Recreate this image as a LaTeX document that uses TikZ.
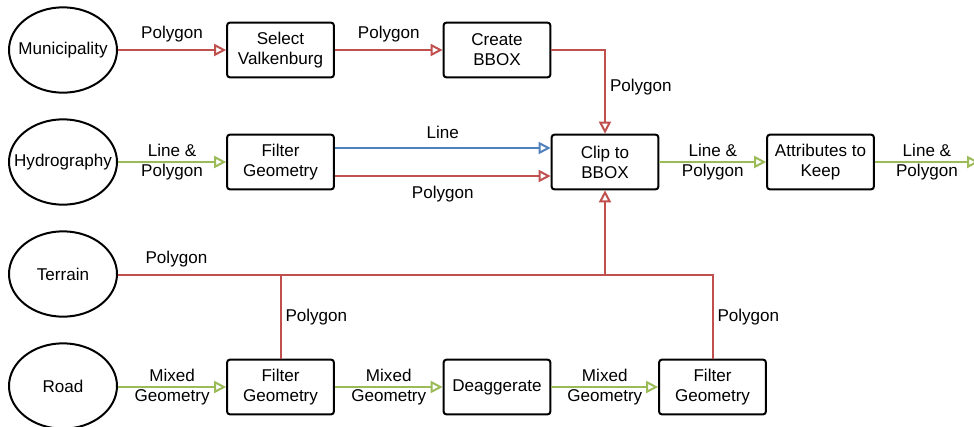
\documentclass[tikz,border=0pt]{standalone}
\usepackage{fontspec}
\setmainfont{Liberation Sans}
\usetikzlibrary{arrows.meta,calc,shapes.geometric}
\definecolor{cred}{HTML}{C0504D}
\definecolor{cgreen}{HTML}{9BBB59}
\definecolor{cblue}{HTML}{4F81BD}
\begin{document}
\begin{tikzpicture}[x=0.75pt,y=-0.75pt,
  font=\fontsize{12.8}{15}\selectfont,
  src/.style={draw=black,line width=1.5pt,ellipse,minimum width=81pt,minimum height=64pt,inner sep=0pt},
  proc/.style={draw=black,line width=1.5pt,rounded corners=2pt,minimum width=80pt,minimum height=41pt,inner sep=0pt,align=center},
  conn/.style={line width=1.5pt,-{Triangle[open,length=9pt,width=9pt,fill=white]}},
  plain/.style={line width=1.5pt},
  lab/.style={align=center,inner sep=1pt,text=black}]
\useasboundingbox (0,0) rectangle (974,426);
% sources
\node[src,label=center:Municipality] (mun) at (63,50) {};
\node[src,label=center:Hydrography] (hyd) at (63,162) {};
\node[src,label=center:Terrain] (ter) at (63,274) {};
\node[src,label=center:Road] (road) at (63,386) {};
% processes
\node[proc] (sel) at (280.5,50) {Select\\Valkenburg};
\node[proc] (cre) at (497,50) {Create\\BBOX};
\node[proc] (fg1) at (280.5,162) {Filter\\Geometry};
\node[proc] (clip) at (605,162) {Clip to\\BBOX};
\node[proc] (attr) at (820.5,162) {Attributes to\\Keep};
\node[proc] (fg2) at (280.5,387) {Filter\\Geometry};
\node[proc] (dea) at (497,387) {Deaggerate};
\node[proc] (fg3) at (712.5,387) {Filter\\Geometry};
\coordinate (out) at (979,162);
\coordinate (j2) at (605,275);
% top row
\draw[conn,cred] (mun.east) -- node[lab,above=4pt]{Polygon} (sel.west);
\draw[conn,cred] (sel.east) -- node[lab,above=4pt]{Polygon} (cre.west);
\draw[conn,cred] (cre.east) -| node[lab,pos=0.72,right=2pt]{Polygon} (clip.north);
% hydrography
\draw[conn,cgreen] (hyd.east) -- node[lab]{Line \&\\Polygon} (fg1.west);
\draw[conn,cblue] ($(fg1.east)+(0,-14)$) -- node[lab,above=5pt]{Line} ($(clip.west)+(0,-14)$);
\draw[conn,cred] ($(fg1.east)+(0,14)$) -- node[lab,below=6pt]{Polygon} ($(clip.west)+(0,14)$);
\draw[conn,cgreen] (clip.east) -- node[lab]{Line \&\\Polygon} (attr.west);
\draw[conn,cgreen] (attr.east) -- node[lab,pos=0.5]{Line \&\\Polygon} (out);
% terrain
\draw[conn,cred] (ter.east |- j2) -- node[lab,pos=0.12,above=4pt]{Polygon} (j2) -- (clip.south);
\draw[plain,cred] (fg2.north) -- node[lab,right=2pt]{Polygon} (fg2.north |- j2);
\draw[plain,cred] (fg3.north) -- node[lab,right=2pt]{Polygon} (fg3.north |- j2) -- (j2);
% road
\draw[conn,cgreen] (road.east |- fg2.west) -- node[lab]{Mixed\\Geometry} (fg2.west);
\draw[conn,cgreen] (fg2.east) -- node[lab]{Mixed\\Geometry} (dea.west);
\draw[conn,cgreen] (dea.east) -- node[lab]{Mixed\\Geometry} (fg3.west);
\end{tikzpicture}
\end{document}
